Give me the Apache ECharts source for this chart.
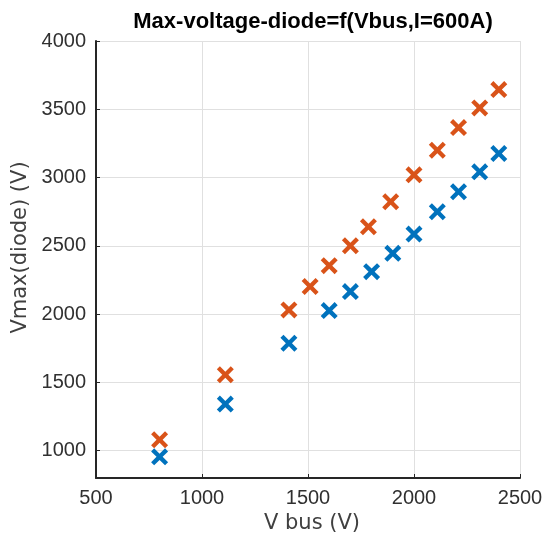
<!DOCTYPE html>
<html>
<head>
<meta charset="utf-8">
<script src="https://cdn.jsdelivr.net/npm/echarts@6/dist/echarts.min.js"></script>
<style>
	html, body { margin: 0; padding: 0; background: #fff; }
	#chart { width: 547px; height: 548px; }
</style>
</head>
<body>
<div id="chart"></div>
<script>
	// 数据
	const titleText = 'Max-voltage-diode=f(Vbus,I=600A)';
	const xName = 'V bus (V)';
	const yName = 'Vmax(diode) (V)';
	const blueX = [800, 1110, 1410, 1600, 1700, 1800, 1900, 2000, 2110, 2210, 2310, 2400];
	const blueY = [955, 1341, 1787, 2026, 2165, 2311, 2445, 2586, 2750, 2896, 3042, 3176];
	const orangeX = [800, 1110, 1410, 1510, 1600, 1700, 1785, 1890, 2000, 2110, 2210, 2310, 2400];
	const orangeY = [1080, 1556, 2031, 2202, 2355, 2501, 2640, 2823, 3020, 3200, 3366, 3510, 3644];

	const pairs = (xs, ys) => xs.map((x, i) => [x, ys[i]]);
	// X 形标记
	const cross = 'path://M0,1.8L1.8,0L5,3.2L8.2,0L10,1.8L6.8,5L10,8.2L8.2,10L5,6.8L1.8,10L0,8.2L3.2,5Z';
	const tickFont = 'Liberation Sans, Arial, sans-serif';
	const labelFont = 'DejaVu Sans, sans-serif';
	const plain = v => String(v);

	const chart = echarts.init(document.getElementById('chart'));
	const option = {
		backgroundColor: '#fff',
		animation: false,
		title: {
			text: titleText,
			left: 308,
			top: 6,
			textAlign: 'center',
			textStyle: {
				fontFamily: tickFont,
				fontSize: 22,
				fontWeight: 'bold',
				color: '#000'
			}
		},
		grid: {
			left: 96,
			right: 27,
			top: 41,
			bottom: 70
		},
		xAxis: {
			type: 'value',
			min: 500,
			max: 2500,
			interval: 500,
			name: xName,
			nameLocation: 'middle',
			nameGap: 33,
			nameTextStyle: { fontFamily: labelFont, fontSize: 21, color: '#404040', padding: [0, 0, 0, 8] },
			axisLine: { show: true, onZero: false, lineStyle: { color: '#262626', width: 2 } },
			axisTick: { show: true, inside: true, length: 4, lineStyle: { color: '#262626' } },
			axisLabel: { fontFamily: tickFont, fontSize: 20, color: '#303030', margin: 10, formatter: plain },
			splitLine: { show: true, lineStyle: { color: '#e0e0e0', width: 1 } }
		},
		yAxis: {
			type: 'value',
			min: 800,
			max: 4000,
			splitNumber: 6,
			name: yName,
			nameLocation: 'middle',
			nameGap: 57,
			nameTextStyle: { fontFamily: labelFont, fontSize: 21, color: '#404040', padding: [0, 0, 0, 24] },
			axisLine: { show: true, onZero: false, lineStyle: { color: '#262626', width: 2 } },
			axisTick: { show: true, inside: true, length: 4, lineStyle: { color: '#262626' } },
			axisLabel: { fontFamily: tickFont, fontSize: 20, color: '#303030', margin: 10, showMinLabel: false, formatter: plain },
			splitLine: { show: true, lineStyle: { color: '#e0e0e0', width: 1 } }
		},
		series: [
			{
				name: 'blue',
				type: 'scatter',
				symbol: cross,
				symbolSize: 17,
				itemStyle: { color: '#0072BD', opacity: 1 },
				data: pairs(blueX, blueY)
			},
			{
				name: 'orange',
				type: 'scatter',
				symbol: cross,
				symbolSize: 17,
				itemStyle: { color: '#D95319', opacity: 1 },
				data: pairs(orangeX, orangeY)
			}
		]
	};
	chart.setOption(option);
	window.addEventListener('resize', function() {
		chart.resize();
	});
</script>
</body>
</html>
